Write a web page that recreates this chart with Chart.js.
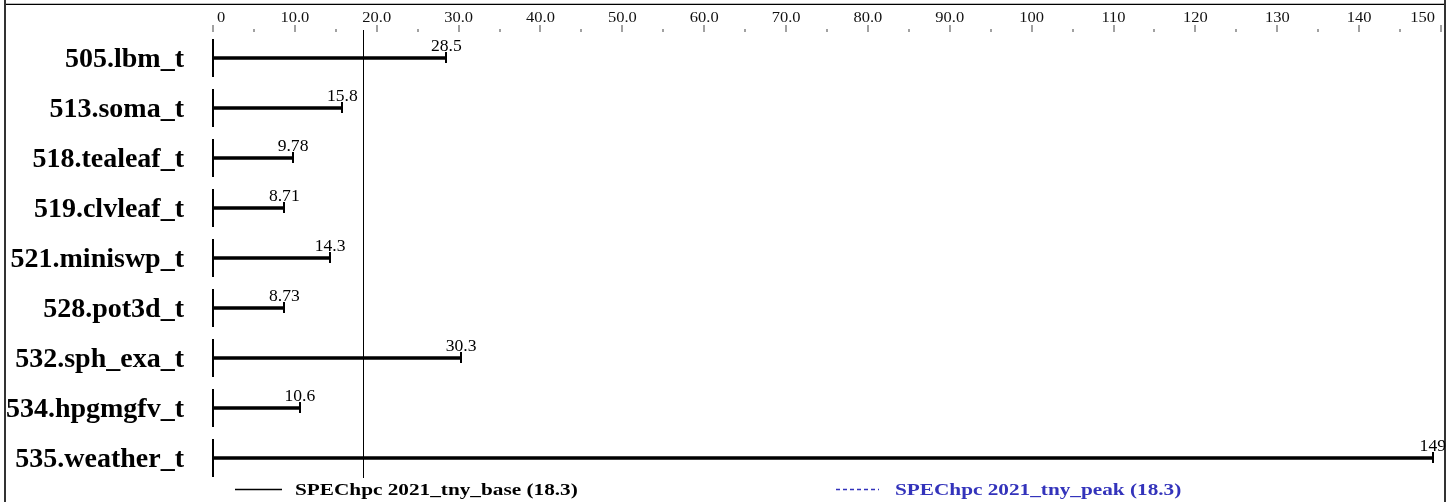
<!DOCTYPE html>
<html>
<head>
<meta charset="utf-8">
<title>SPEChpc 2021_tny</title>
<script src="https://cdn.jsdelivr.net/npm/chart.js@4/dist/chart.umd.min.js"></script>
<style>
  html, body { margin: 0; padding: 0; background: #fff; }
  #wrap { position: relative; width: 1455px; height: 502px; }
</style>
</head>
<body>
<div id="wrap"><canvas id="chart" width="1455" height="502"></canvas></div>
<script>
// Benchmarki i wyniki (ratio)
const benchmarks = ['505.lbm_t', '513.soma_t', '518.tealeaf_t', '519.clvleaf_t', '521.miniswp_t',
                    '528.pot3d_t', '532.sph_exa_t', '534.hpgmgfv_t', '535.weather_t'];
const baseValues = [28.5, 15.8, 9.78, 8.71, 14.3, 8.73, 30.3, 10.6, 149];
const valueLabels = ['28.5', '15.8', '9.78', '8.71', '14.3', '8.73', '30.3', '10.6', '149'];
const tickValues = [0, 10, 20, 30, 40, 50, 60, 70, 80, 90, 100, 110, 120, 130, 140, 150];
const tickLabels = ['0', '10.0', '20.0', '30.0', '40.0', '50.0', '60.0', '70.0', '80.0', '90.0',
                    '100', '110', '120', '130', '140', '150'];
const baseMean = 18.3;
const peakMean = 18.3;
const legendLabels = ['SPEChpc 2021_tny_base (18.3)', 'SPEChpc 2021_tny_peak (18.3)'];

const SERIF = '"Liberation Serif", "Times New Roman", serif';
const BLUE = '#3333bb';

// tekst rozciągnięty poziomo (oryginał ma szerszą czcionkę)
function stretchText(ctx, text, x, y, sx, align) {
    ctx.save();
    ctx.translate(x, y);
    ctx.scale(sx, 1);
    ctx.textAlign = align;
    ctx.fillText(text, 0, 0);
    ctx.restore();
}

const specPlugin = {
    id: 'specDecor',
    beforeDatasetsDraw(chart) {
        const ctx = chart.ctx;
        const xs = chart.scales.x;
        ctx.save();
        // ramka
        ctx.fillStyle = '#333';
        ctx.fillRect(4, 0, 2, 502);
        ctx.fillRect(1444, 0, 2, 502);
        ctx.fillStyle = '#bbb';
        ctx.fillRect(6, 3, 1438, 1);
        ctx.fillStyle = '#000';
        ctx.fillRect(6, 4, 1438, 1);

        // podziałka osi X (góra)
        ctx.fillStyle = '#444';
        for (let v = 0; v <= 150; v += 5) {
            const px = Math.round(xs.getPixelForValue(v));
            if (v % 10 === 0) ctx.fillRect(px - 0.5, 25, 1, 7);
            else ctx.fillRect(px - 0.5, 29, 1, 3);
        }
        ctx.fillStyle = '#111';
        ctx.font = '15px ' + SERIF;
        ctx.textBaseline = 'alphabetic';
        tickValues.forEach((v, i) => {
            const px = xs.getPixelForValue(v);
            if (i === 0) stretchText(ctx, tickLabels[i], px + 4, 22, 1.1, 'left');
            else if (i === tickValues.length - 1) stretchText(ctx, tickLabels[i], px - 6, 22, 1.1, 'right');
            else stretchText(ctx, tickLabels[i], px, 22, 1.1, 'center');
        });

        // linia średniej
        const mx = Math.round(xs.getPixelForValue(baseMean)) + 0.5;
        ctx.strokeStyle = '#000';
        ctx.lineWidth = 1;
        ctx.beginPath();
        ctx.moveTo(mx, 30);
        ctx.lineTo(mx, 478);
        ctx.stroke();
        ctx.restore();
    },
    afterDatasetsDraw(chart) {
        const ctx = chart.ctx;
        const xs = chart.scales.x;
        const ys = chart.scales.y;
        ctx.save();
        ctx.fillStyle = '#000';
        const x0 = Math.round(xs.getPixelForValue(0));
        benchmarks.forEach((name, i) => {
            const y = Math.round(ys.getPixelForValue(i));
            const px = xs.getPixelForValue(baseValues[i]);
            // pionowa kreska przy zerze
            ctx.fillRect(x0 - 1, y - 19, 2, 38);
            // zakończenie słupka
            ctx.fillRect(Math.round(px) - 1, y - 6, 2, 11);
            // wartość
            ctx.font = '16px ' + SERIF;
            stretchText(ctx, valueLabels[i], px, y - 7, 1.1, 'center');
            // nazwa benchmarku
            ctx.font = 'bold 28px ' + SERIF;
            ctx.textAlign = 'right';
            ctx.fillText(name, 184, y + 9);
        });

        // legenda
        ctx.strokeStyle = '#000';
        ctx.lineWidth = 1.5;
        ctx.beginPath();
        ctx.moveTo(235, 489.5);
        ctx.lineTo(282, 489.5);
        ctx.stroke();
        ctx.font = 'bold 17px ' + SERIF;
        stretchText(ctx, legendLabels[0], 295, 495, 1.25, 'left');

        ctx.strokeStyle = BLUE;
        ctx.lineWidth = 1.5;
        ctx.setLineDash([4, 3]);
        ctx.beginPath();
        ctx.moveTo(836, 489.5);
        ctx.lineTo(879, 489.5);
        ctx.stroke();
        ctx.setLineDash([]);
        ctx.fillStyle = BLUE;
        stretchText(ctx, legendLabels[1], 895, 495, 1.25, 'left');
        ctx.restore();
    }
};

new Chart(document.getElementById('chart'), {
    type: 'bar',
    data: {
        labels: benchmarks,
        datasets: [{
            label: legendLabels[0],
            data: baseValues,
            backgroundColor: '#000',
            borderWidth: 0,
            barThickness: 3
        }]
    },
    options: {
        indexAxis: 'y',
        responsive: false,
        animation: false,
        devicePixelRatio: 1,
        layout: { padding: { left: 213, right: 14, top: 33, bottom: 19 } },
        scales: {
            x: { display: false, min: 0, max: 150 },
            y: { display: false }
        },
        plugins: {
            legend: { display: false },
            tooltip: { enabled: false }
        }
    },
    plugins: [specPlugin]
});
</script>
</body>
</html>
